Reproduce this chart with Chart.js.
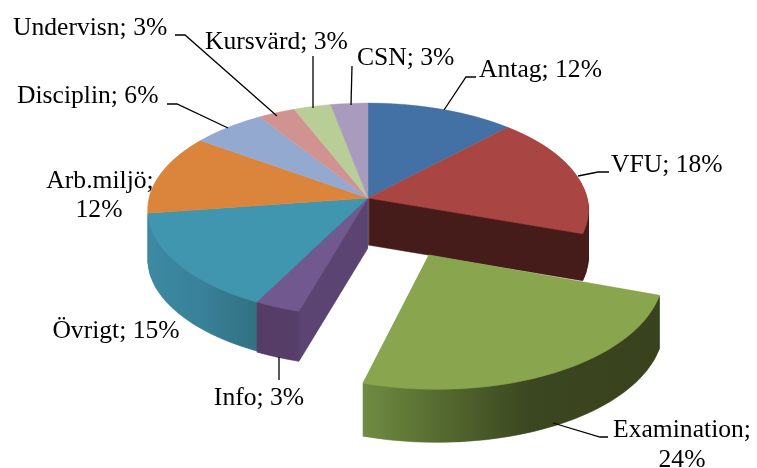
<!DOCTYPE html>
<html><head><meta charset="utf-8">
<style>html,body{margin:0;padding:0;background:#fff}canvas{display:block}</style>
<script src="https://cdn.jsdelivr.net/npm/chart.js@4"></script>
</head><body><canvas id="c" width="757" height="468"></canvas>
<script>
const categories = ['Antag','VFU','Examination','Info','Övrigt','Arb.miljö','Disciplin','Undervisn','Kursvärd','CSN'];
const shares = [12,18,24,3,15,12,6,3,3,3];
const topColors = ['#4371a6','#a94643','#89a54e','#71588f','#3f96ae','#da843c','#93a9cf','#d09392','#b9cd96','#a99bbd'];
const explode = [0,0,458,0,0,0,0,0,0,0];

// Perspective of the tilted pie plane
const view = {cx:368, cy:198, R:219, Q:105.5, K:9, r:200};
// Side walls, back to front: slice index, depth, gradient stops along screen x
const walls = [
  {i:1, depth:47, x0:368, x1:590, stops:[[0,'#451c19'],[1,'#451c19']]},
  {i:4, depth:49, x0:147, x1:258, stops:[[0,'#3c8aa2'],[0.5,'#39809a'],[1,'#327180']]},
  {i:3, depth:50, x0:258, x1:368, stops:[[0,'#553c66'],[0.35,'#563e69'],[0.4,'#5b4472'],[1,'#5b4472']]}
];
const frontWall = {i:2, depth:53, x0:363, x1:661, stops:[[0,'#6f8c42'],[0.27,'#54692f'],[0.56,'#3b4720'],[1,'#38421e']]};
// Label text blocks: lines, anchor, baselines
const labels = [
  {t:'Antag; 12%', x:479, y:77},
  {t:'VFU; 18%', x:611, y:172},
  {t:'Examination;', x:682, y:437, c:1},
  {t:'24%', x:682, y:467, c:1},
  {t:'Info; 3%', x:259, y:405, c:1},
  {t:'Övrigt; 15%', x:116, y:338, c:1},
  {t:'Arb.miljö;', x:100, y:188, c:1},
  {t:'12%', x:99, y:217, c:1},
  {t:'Disciplin; 6%', x:17, y:103},
  {t:'Undervisn; 3%', x:13, y:35},
  {t:'Kursvärd; 3%', x:205, y:49},
  {t:'CSN; 3%', x:357, y:65}
];
const leaders = [
  [[444,110],[466,77],[476,77]],
  [[578,176],[598,172],[609,172]],
  [[553,423],[600,437],[608,437]],
  [[279,357],[279,380]],
  [[167,104],[177,104],[228,128]],
  [[175,35],[185,35],[277,116]],
  [[313,56],[313,108]],
  [[352,66],[351,105]]
];

function drawWarped(ctx, arcs, ax, ay){
  const {cx,cy,R,Q,K,r} = view;
  for(let y=90;y<450;y++){
    const dy=y+0.5-cy;
    const v=dy/(Q+dy/K);
    const w=1/(1-v/K);
    const a=R*w/r, d=Q*w*w/r;
    ctx.save();
    ctx.setTransform(1,0,0,1,0,0);
    ctx.beginPath();ctx.rect(0,y,757,1);ctx.clip();
    ctx.setTransform(a,0,0,d,cx-a*ax,y+0.5-d*(ay+v*r));
    arcs.forEach(p=>p.draw(ctx));
    ctx.restore();
  }
}
function makeLayer(){const c=document.createElement('canvas');c.width=757;c.height=468;return c;}
function drawWall(ctx, wall, arcs, ax, ay){
  const sil=makeLayer(), out=makeLayer();
  drawWarped(sil.getContext('2d'),[arcs[wall.i]],ax,ay);
  const o=out.getContext('2d');
  for(let d=wall.depth;d>=1;d--) o.drawImage(sil,0,d);
  o.globalCompositeOperation='source-atop';
  const g=o.createLinearGradient(wall.x0,0,wall.x1,0);
  wall.stops.forEach(s=>g.addColorStop(s[0],s[1]));
  o.fillStyle=g;o.fillRect(0,0,757,468);
  ctx.drawImage(out,0,0);
}

const pie3d = {
  id:'pie3d',
  beforeDatasetsDraw(chart){
    const ctx=chart.ctx, arcs=chart.getDatasetMeta(0).data;
    const ax=arcs[0].x, ay=arcs[0].y;
    walls.forEach(w=>drawWall(ctx,w,arcs,ax,ay));
    drawWarped(ctx,arcs.filter((p,i)=>i!==frontWall.i),ax,ay);
    drawWall(ctx,frontWall,arcs,ax,ay);
    drawWarped(ctx,[arcs[frontWall.i]],ax,ay);
    return false;
  },
  afterDraw(chart){
    const ctx=chart.ctx;
    ctx.save();
    ctx.strokeStyle='#000';ctx.lineWidth=1.3;
    leaders.forEach(l=>{ctx.beginPath();l.forEach((p,i)=>i?ctx.lineTo(p[0],p[1]):ctx.moveTo(p[0],p[1]));ctx.stroke();});
    ctx.fillStyle='#000';ctx.font='25.6px "Liberation Serif"';ctx.textBaseline='alphabetic';
    labels.forEach(l=>{ctx.textAlign=l.c?'center':'left';ctx.fillText(l.t,l.x,l.y);});
    ctx.restore();
  }
};

new Chart(document.getElementById('c'),{
  type:'pie',
  data:{labels:categories,datasets:[{data:shares,backgroundColor:topColors,borderColor:topColors,borderWidth:0.6,offset:explode,radius:200}]},
  options:{responsive:false,animation:false,plugins:{legend:{display:false},tooltip:{enabled:false}}},
  plugins:[pie3d]
});
</script></body></html>
